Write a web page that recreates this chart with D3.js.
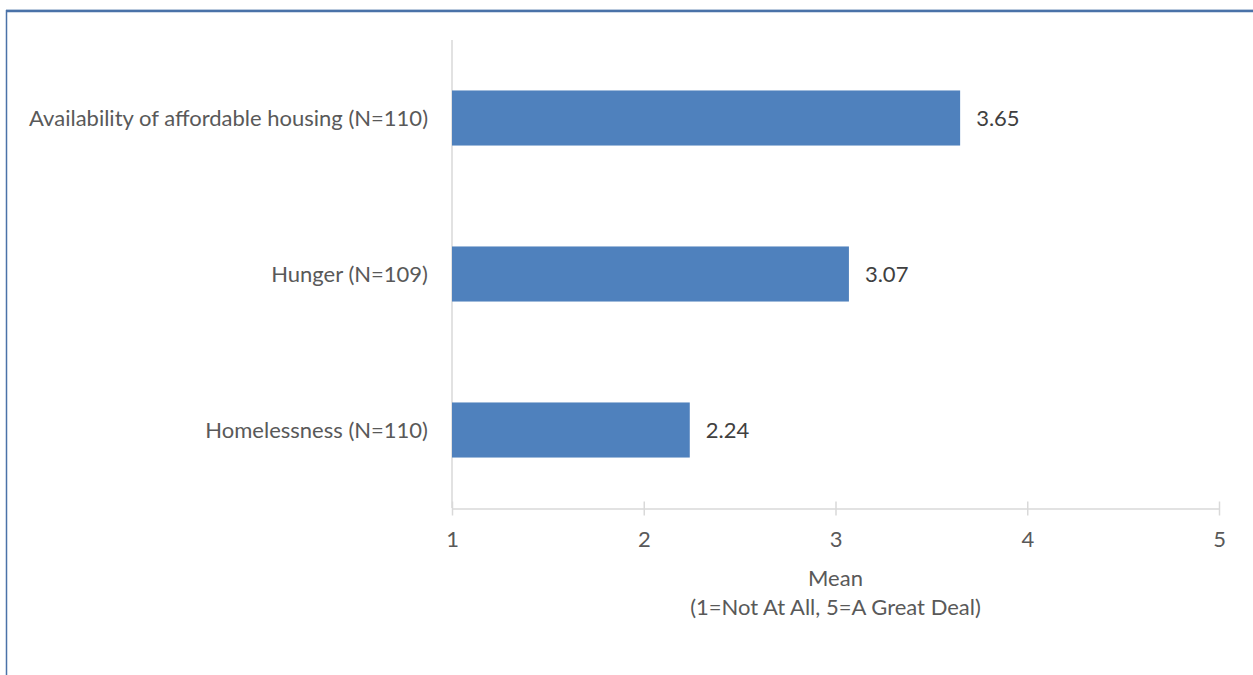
<!DOCTYPE html>
<html><head><meta charset="utf-8">
<script src="https://cdn.jsdelivr.net/npm/d3@7"></script>
<style>
html,body{margin:0;padding:0;background:#fff;overflow:hidden}
text{font-family:Lato,"Open Sans",sans-serif}
</style></head>
<body><svg id="c" width="1253" height="675"></svg>
<script>
const categories = ["Availability of affordable housing (N=110)", "Hunger (N=109)", "Homelessness (N=110)"];
const values = [3.65, 3.07, 2.24];
const valueLabels = ["3.65", "3.07", "2.24"];
const xTicks = [1, 2, 3, 4, 5];
const axisTitle = ["Mean", "(1=Not At All, 5=A Great Deal)"];

const FS = 22;
const svg = d3.select("#c");
// frame
svg.append("line").attr("x1",6).attr("x2",1253).attr("y1",11).attr("y2",11).attr("stroke","#4a72a8").attr("stroke-width",2.5);
svg.append("line").attr("x1",6).attr("x2",1253).attr("y1",9.5).attr("y2",9.5).attr("stroke","#b9c9dd").attr("stroke-width",1);
svg.append("line").attr("x1",6.5).attr("x2",6.5).attr("y1",10).attr("y2",675).attr("stroke","#4a72a8").attr("stroke-width",1.5);

const x = d3.scaleLinear().domain([1,5]).range([452,1219]);
const y = d3.scaleBand().domain(categories).range([40,508]).paddingInner(0.647).paddingOuter(0.3235);

const grid = "#d9d9d9";
svg.append("line").attr("x1",x(1)).attr("x2",x(1)).attr("y1",40).attr("y2",508).attr("stroke",grid).attr("stroke-width",1.5);

svg.selectAll("rect.bar").data(values).enter().append("rect")
  .attr("x",x(1)).attr("y",(d,i)=>y(categories[i]))
  .attr("width",d=>x(d)-x(1)).attr("height",y.bandwidth())
  .attr("fill","#4f81bd");

svg.selectAll("text.val").data(values).enter().append("text")
  .attr("x",d=>x(d)+16).attr("y",(d,i)=>y(categories[i])+y.bandwidth()/2)
  .attr("dy","0.35em").attr("font-size",FS).attr("fill","#404040")
  .text((d,i)=>valueLabels[i]);

svg.selectAll("text.cat").data(categories).enter().append("text")
  .attr("x",428).attr("y",d=>y(d)+y.bandwidth()/2)
  .attr("dy","0.35em").attr("text-anchor","end").attr("font-size",FS).attr("fill","#595959")
  .text(d=>d);

const xa = svg.append("g").attr("transform","translate(0,508.5)")
  .call(d3.axisBottom(x).tickValues(xTicks).tickFormat(d3.format("d")).tickSizeInner(7).tickSizeOuter(0).tickPadding(16));
xa.select(".domain").attr("stroke",grid).attr("stroke-width",1.5);
xa.selectAll(".tick line").attr("stroke",grid).attr("stroke-width",1.5).attr("y1",-7);
xa.selectAll(".tick text").attr("font-size",FS).attr("fill","#595959").attr("font-family","Lato, 'Open Sans', sans-serif");

svg.selectAll("text.ttl").data(axisTitle).enter().append("text")
  .attr("x",(x(1)+x(5))/2).attr("y",(d,i)=>578+i*29).attr("dy","0.35em")
  .attr("text-anchor","middle").attr("font-size",FS).attr("fill","#595959").text(d=>d);
</script></body></html>
